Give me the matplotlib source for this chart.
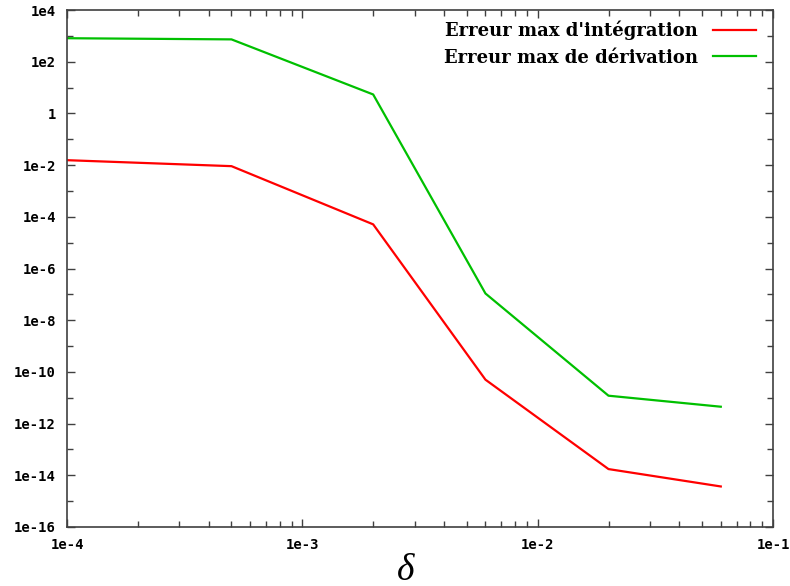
import numpy as np
import matplotlib.pyplot as plt
from matplotlib.ticker import LogLocator, FixedLocator, NullFormatter

# pas delta
delta = [1e-4, 5e-4, 2e-3, 6e-3, 2e-2, 6e-2]

# erreurs
err_integ = [1.55e-2, 9.1e-3, 5.1e-5, 5.0e-11, 1.74e-14, 3.7e-15]
err_deriv = [810.0, 730.0, 5.4, 1.08e-7, 1.2e-11, 4.5e-12]

ytick_vals = [1e4, 1e2, 1, 1e-2, 1e-4, 1e-6, 1e-8, 1e-10, 1e-12, 1e-14, 1e-16]
ytick_labels = ["1e4", "1e2", "1", "1e-2", "1e-4", "1e-6", "1e-8",
                "1e-10", "1e-12", "1e-14", "1e-16"]
xtick_vals = [1e-4, 1e-3, 1e-2, 1e-1]
xtick_labels = ["1e-4", "1e-3", "1e-2", "1e-1"]

fig = plt.figure(figsize=(7.9, 5.86), dpi=100)
ax = fig.add_axes([67/790, 59/586, 706/790, 517/586])

ax.plot(delta, err_integ, color="#ff0000", lw=1.6, label="Erreur max d'intégration")
ax.plot(delta, err_deriv, color="#00c000", lw=1.6, label="Erreur max de dérivation")

ax.set_xscale("log")
ax.set_yscale("log")
ax.set_xlim(1e-4, 1e-1)
ax.set_ylim(1e-16, 1e4)

tickfont = dict(family="DejaVu Sans Mono", weight="bold", size=10)
ax.set_xticks(xtick_vals)
ax.set_xticklabels(xtick_labels, **tickfont)
ax.set_yticks(ytick_vals)
ax.set_yticklabels(ytick_labels, **tickfont)
ax.xaxis.set_minor_locator(LogLocator(base=10, subs=np.arange(2, 10)))
ax.xaxis.set_minor_formatter(NullFormatter())
ax.yaxis.set_minor_locator(FixedLocator([10.0**k for k in range(-15, 4, 2)]))
ax.yaxis.set_minor_formatter(NullFormatter())

ax.tick_params(which="both", direction="in", top=True, right=True, color="#404040")
ax.tick_params(which="major", length=6, width=1, pad=8)
ax.tick_params(which="minor", length=4, width=1)
for s in ax.spines.values():
    s.set_color("#404040")
    s.set_linewidth(1.2)

fig.text(406/790, 1 - 553/586, "δ", family="Liberation Serif", style="italic",
         fontsize=27, ha="center", va="top")

leg = ax.legend(loc="upper right", bbox_to_anchor=(756/790, 1 - 21/586),
                bbox_transform=fig.transFigure, frameon=False, markerfirst=False,
                prop=dict(family="DejaVu Serif", weight="bold", size=13),
                handlelength=2.4, handletextpad=0.8, labelspacing=0.45,
                borderpad=0, borderaxespad=0)

fig.savefig("out.png", dpi=100)
